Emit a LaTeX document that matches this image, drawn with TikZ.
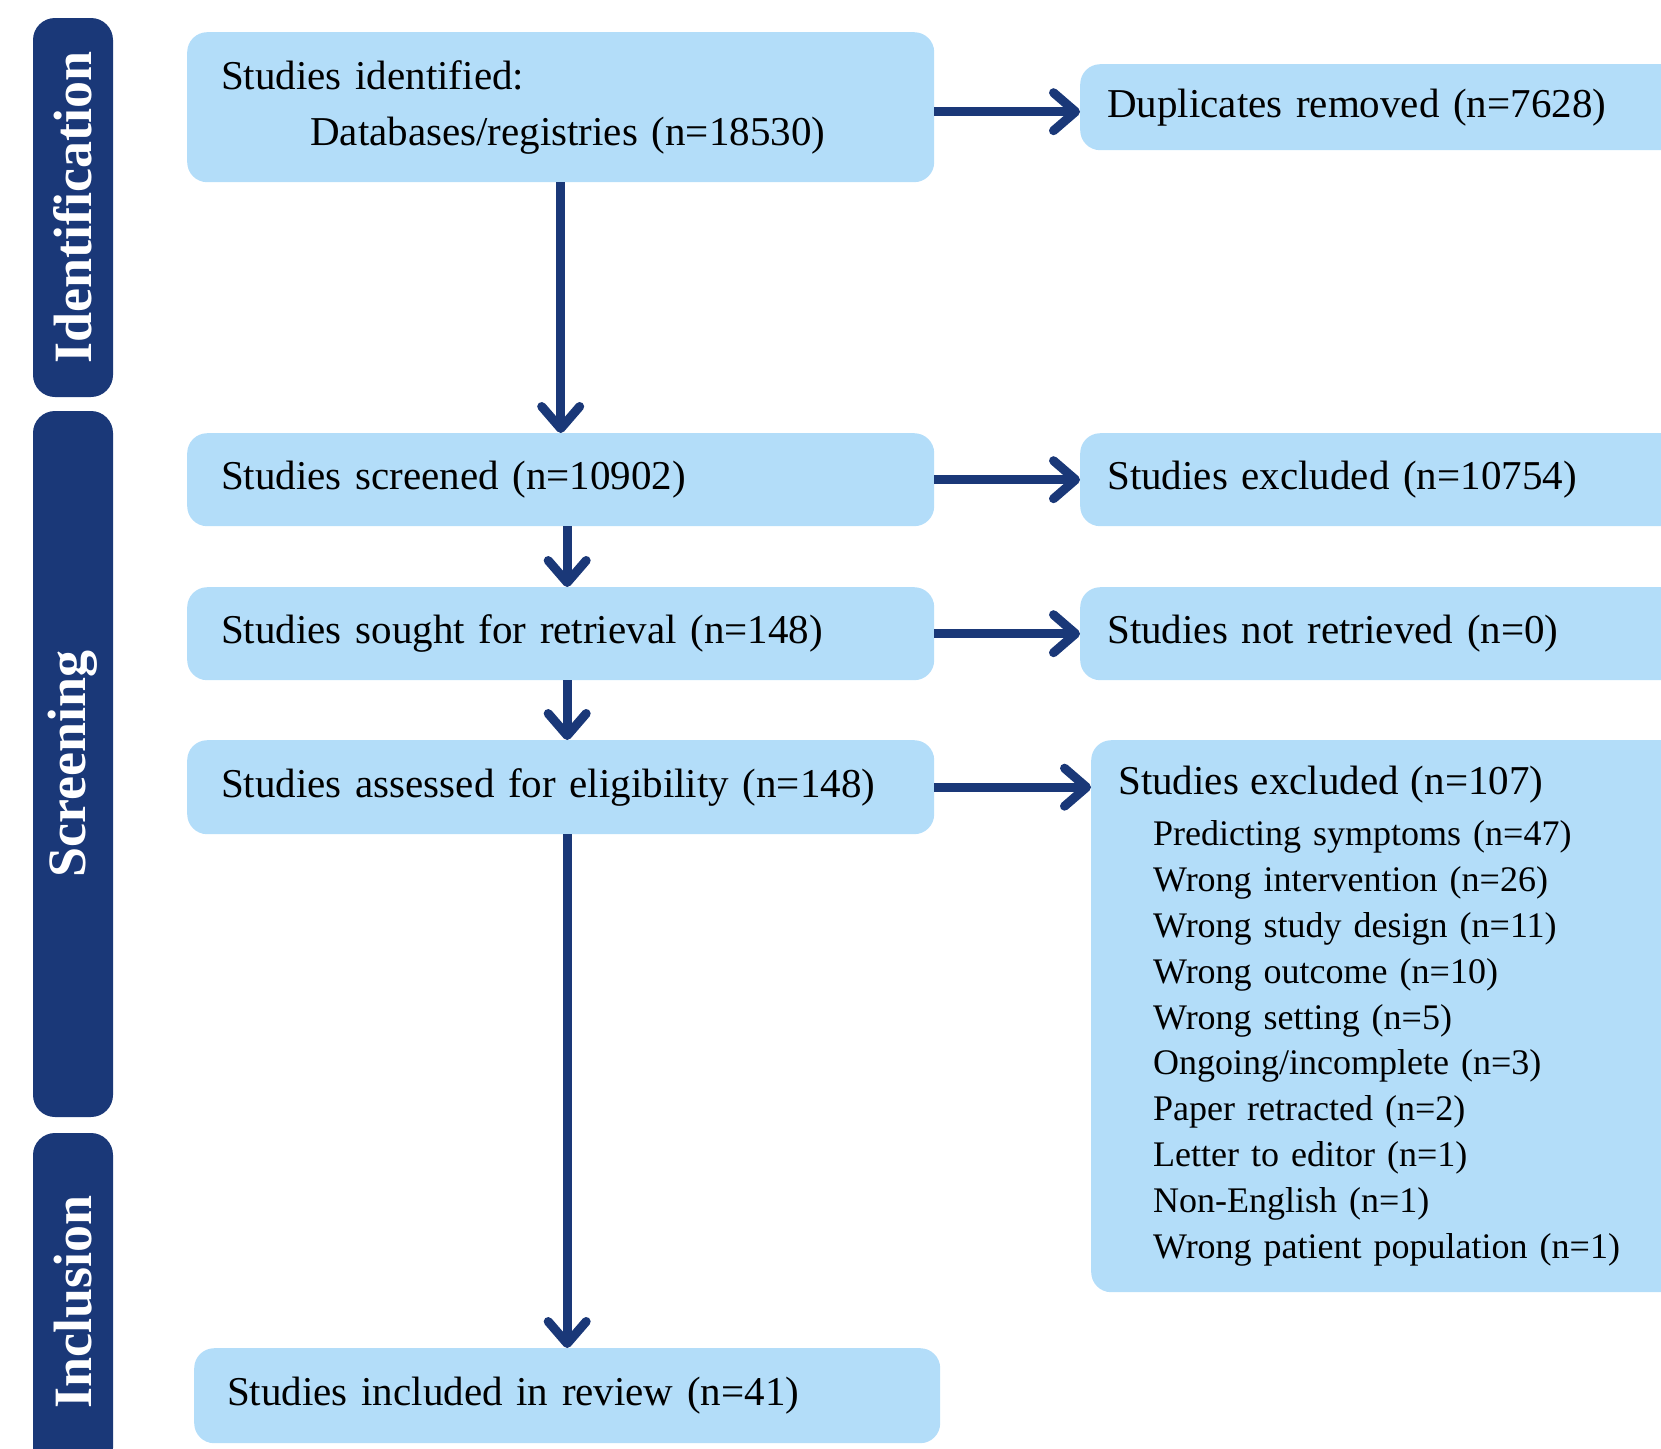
\documentclass[tikz,border=0pt]{standalone}
\usepackage{fontspec}
\setmainfont{Liberation Serif}
\usetikzlibrary{arrows.meta}
\definecolor{navy}{HTML}{1A3878}
\definecolor{boxblue}{HTML}{B3DDF9}
\begin{document}
\begin{tikzpicture}[x=1pt,y=-1pt,
  phase/.style={fill=navy, rounded corners=22pt, text=white, font=\fontsize{54}{60}\selectfont\bfseries, rotate=90, minimum height=80pt, inner sep=0pt},
  stage/.style={fill=boxblue, rounded corners=20pt, anchor=north west, align=left, inner ysep=0pt, font=\fontsize{41}{56}\selectfont},
  flow/.style={draw=navy, line width=9pt, -{Straight Barb[length=22pt,width=38pt,round]}}
]
\clip (0,0) rectangle (1661,1448);
% phase bars
\node[phase, minimum width=379pt] (pident) at (73,207.5) {Identification};
\node[phase, minimum width=706pt] (pscreen) at (73,764) {Screening};
\node[phase, minimum width=337pt] (pincl) at (73,1301.5) {Inclusion};
% left column
\node[stage, inner xsep=34pt, text width=679pt, minimum height=150pt] (ident) at (187,32) {Studies identified:\\\hspace*{89pt}Databases/registries (n=18530)};
\node[stage, inner xsep=34pt, text width=679pt, minimum height=93pt] (screened) at (187,433) {Studies screened (n=10902)};
\node[stage, inner xsep=34pt, text width=679pt, minimum height=93pt] (sought) at (187,587) {Studies sought for retrieval (n=148)};
\node[stage, inner xsep=34pt, text width=679pt, minimum height=94pt] (assessed) at (187,740) {Studies assessed for eligibility (n=148)};
\node[stage, inner xsep=33pt, text width=680pt, minimum height=95pt] (included) at (194,1348) {Studies included in review (n=41)};
% right column
\node[stage, inner xsep=27pt, text width=700pt, minimum height=86pt] (dup) at (1080,64) {Duplicates removed (n=7628)};
\node[stage, inner xsep=27pt, text width=700pt, minimum height=93pt] (excl1) at (1080,433) {Studies excluded (n=10754)};
\node[stage, inner xsep=27pt, text width=700pt, minimum height=93pt] (notret) at (1080,587) {Studies not retrieved (n=0)};
\node[stage, inner xsep=27pt, text width=700pt, minimum height=552pt, font=\fontsize{36}{45.9}\selectfont] (excl2) at (1091,740) {{\fontsize{41}{45.9}\selectfont Studies excluded (n=107)}\\[5pt]
\hspace*{35pt}Predicting symptoms (n=47)\\
\hspace*{35pt}Wrong intervention (n=26)\\
\hspace*{35pt}Wrong study design (n=11)\\
\hspace*{35pt}Wrong outcome (n=10)\\
\hspace*{35pt}Wrong setting (n=5)\\
\hspace*{35pt}Ongoing/incomplete (n=3)\\
\hspace*{35pt}Paper retracted (n=2)\\
\hspace*{35pt}Letter to editor (n=1)\\
\hspace*{35pt}Non-English (n=1)\\
\hspace*{35pt}Wrong patient population (n=1)};
% connectors
\draw[flow] (ident.south) -- (screened.north);
\draw[flow] ([xshift=6.5pt]screened.south) -- ([xshift=6.5pt]sought.north);
\draw[flow] ([xshift=6.5pt]sought.south) -- ([xshift=6.5pt]assessed.north);
\draw[flow] (assessed.south -| included.north) -- (included.north);
\draw[flow] ([yshift=-4.5pt]ident.east) -- ([yshift=-4.5pt]ident.east -| dup.west);
\draw[flow] (screened.east) -- (screened.east -| excl1.west);
\draw[flow] (sought.east) -- (sought.east -| notret.west);
\draw[flow] (assessed.east) -- (assessed.east -| excl2.west);
\end{tikzpicture}
\end{document}
